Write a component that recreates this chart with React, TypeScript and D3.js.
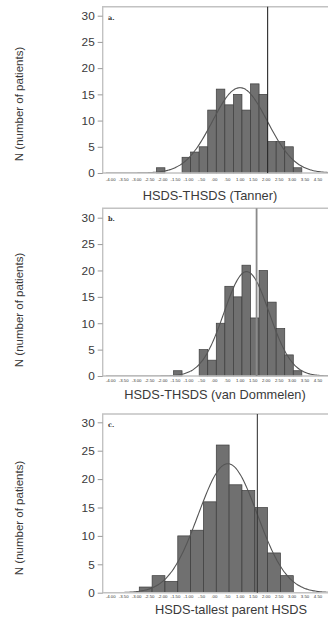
import React, { useEffect, useRef } from "react";
import * as d3 from "d3";

const width = 328;
const height = 623;

// tick labels under every panel (4.00 is missing in the original)
const xTickLabels = [
  "-4.00", "-3.50", "-3.00", "-2.50", "-2.00", "-1.50", "-1.00", "-.50",
  ".00", ".50", "1.00", "1.50", "2.00", "2.50", "3.00", "3.50", "4.50",
];
const yTicks = [0, 5, 10, 15, 20, 25, 30];

// panel a: HSDS-THSDS (Tanner), bins of 1/3
const tannerBinStart = -7 / 3;
const tannerBinWidth = 1 / 3;
const tannerCounts = [1, 0, 0, 3, 4, 5, 12, 16, 13, 15, 12, 17, 15, 6, 6, 5, 1];
const tannerMean = 0.92;
const tannerSd = 1.07;
const tannerRef = 2.0;

// panel b: HSDS-THSDS (van Dommelen), bins of 1/3
const vdBinStart = -5 / 3;
const vdBinWidth = 1 / 3;
const vdCounts = [1, 0, 0, 5, 3, 10, 17, 15, 21, 11, 20, 14, 9, 4, 1];
const vdMean = 1.18;
const vdSd = 0.88;
const vdRef = 1.57;

// panel c: HSDS - tallest parent HSDS, bins of 0.5
const parentBinStart = -3;
const parentBinWidth = 0.5;
const parentCounts = [1, 3, 2, 10, 11, 16, 26, 19, 18, 15, 7, 3];
const parentMean = 0.45;
const parentSd = 1.15;
const parentRef = 1.6;

const panels = [
  {
    letter: "a.", title: "HSDS-THSDS (Tanner)",
    start: tannerBinStart, w: tannerBinWidth, counts: tannerCounts,
    mean: tannerMean, sd: tannerSd, ref: tannerRef,
    top: 6.7, base: 173, y30: 15.7, lab: 180.5, titleX: 210, titleY: 199.5, yTitle: 104,
    refColor: "#2a2a2a", refWidth: 1.1,
  },
  {
    letter: "b.", title: "HSDS-THSDS (van Dommelen)",
    start: vdBinStart, w: vdBinWidth, counts: vdCounts,
    mean: vdMean, sd: vdSd, ref: vdRef,
    top: 208.3, base: 376, y30: 217.7, lab: 381.5, titleX: 215, titleY: 399, yTitle: 310,
    refColor: "#8a8a8a", refWidth: 1.8,
  },
  {
    letter: "c.", title: "HSDS-tallest parent HSDS",
    start: parentBinStart, w: parentBinWidth, counts: parentCounts,
    mean: parentMean, sd: parentSd, ref: parentRef,
    top: 414, base: 592.7, y30: 422.3, lab: 597.5, titleX: 231, titleY: 614, yTitle: 518,
    refColor: "#3a3a3a", refWidth: 1.1,
  },
];

const frameLeft = 102.7;
const font = "'Liberation Sans', Arial, sans-serif";

const App = () => {
  const svgRef = useRef<SVGSVGElement>(null);

  useEffect(() => {
    const svg = d3.select(svgRef.current);
    svg.selectAll("*").remove();

    const x = d3.scaleLinear().domain([-4, 4.5]).range([113.6, 331.8]);
    const xLab = d3.scalePoint().domain(xTickLabels).range([110.7, 318]);

    panels.forEach((p, pi) => {
      const g = svg.append("g");
      const y = d3.scaleLinear().domain([0, 30]).range([p.base, p.y30]);

      const clipId = `clip${pi}`;
      g.append("clipPath")
        .attr("id", clipId)
        .append("rect")
        .attr("x", frameLeft)
        .attr("y", p.top)
        .attr("width", width - frameLeft)
        .attr("height", p.base - p.top);

      // bars
      g.append("g")
        .selectAll("rect")
        .data(p.counts.map((c, i) => ({ c, x0: p.start + i * p.w })).filter((d) => d.c > 0))
        .join("rect")
        .attr("x", (d) => x(d.x0))
        .attr("width", (d) => x(d.x0 + p.w) - x(d.x0))
        .attr("y", (d) => y(d.c))
        .attr("height", (d) => p.base - y(d.c))
        .attr("fill", "#707070")
        .attr("stroke", "#3c3c3c")
        .attr("stroke-width", 0.7);

      // fitted normal curve
      const pts = d3.range(-4.3, 4.7, 0.05).map((v) => {
        const z = (v - p.mean) / p.sd;
        const n = d3.sum(p.counts);
        return [v, (n * p.w * Math.exp(-0.5 * z * z)) / (p.sd * Math.sqrt(2 * Math.PI))];
      });
      g.append("path")
        .datum(pts)
        .attr("clip-path", `url(#${clipId})`)
        .attr("fill", "none")
        .attr("stroke", "#555")
        .attr("stroke-width", 1.1)
        .attr("d", d3.line().x((d) => x(d[0])).y((d) => y(d[1])).curve(d3.curveBasis));

      // frame
      g.append("path")
        .attr("d", `M${width},${p.top}H${frameLeft}V${p.base}H${width}`)
        .attr("fill", "none")
        .attr("stroke", "#c2c2c2")
        .attr("stroke-width", 1.4);

      // reference line
      g.append("line")
        .attr("x1", x(p.ref))
        .attr("x2", x(p.ref))
        .attr("y1", p.top)
        .attr("y2", p.base)
        .attr("stroke", p.refColor)
        .attr("stroke-width", p.refWidth);

      // panel letter
      g.append("text")
        .attr("x", 108)
        .attr("y", p.top + 13)
        .attr("font-family", "'DejaVu Serif', serif")
        .attr("font-weight", "bold")
        .attr("font-size", 6.5)
        .attr("fill", "#333")
        .text(p.letter);

      // y axis
      const ya = g.append("g")
        .attr("transform", `translate(${frameLeft},0)`)
        .call(d3.axisLeft(y).tickValues(yTicks).tickSize(5).tickPadding(3));
      ya.select(".domain").remove();
      ya.selectAll(".tick line").attr("stroke", "#9a9a9a");
      ya.selectAll(".tick text")
        .attr("font-family", font)
        .attr("font-size", 11.8)
        .attr("fill", "#3a3a3a");

      // x tick labels
      g.append("g")
        .selectAll("text")
        .data(xTickLabels)
        .join("text")
        .attr("x", (d) => xLab(d) as number)
        .attr("y", p.lab)
        .attr("text-anchor", "middle")
        .attr("font-family", font)
        .attr("font-size", 4.3)
        .attr("fill", "#333")
        .text((d) => d);

      // x title
      g.append("text")
        .attr("x", p.titleX)
        .attr("y", p.titleY)
        .attr("text-anchor", "middle")
        .attr("font-family", font)
        .attr("font-size", 12.8)
        .attr("fill", "#3a3a3a")
        .text(p.title);

      // y title
      g.append("text")
        .attr("transform", `translate(23,${p.yTitle}) rotate(-90)`)
        .attr("text-anchor", "middle")
        .attr("font-family", font)
        .attr("font-size", 11.5)
        .attr("fill", "#3a3a3a")
        .text("N (number of patients)");
    });
  }, []);

  return (
    <svg
      ref={svgRef}
      width={width}
      height={height}
      style={{ position: "absolute", left: 0, top: 0, background: "#fff" }}
    ></svg>
  );
};

export default App;
